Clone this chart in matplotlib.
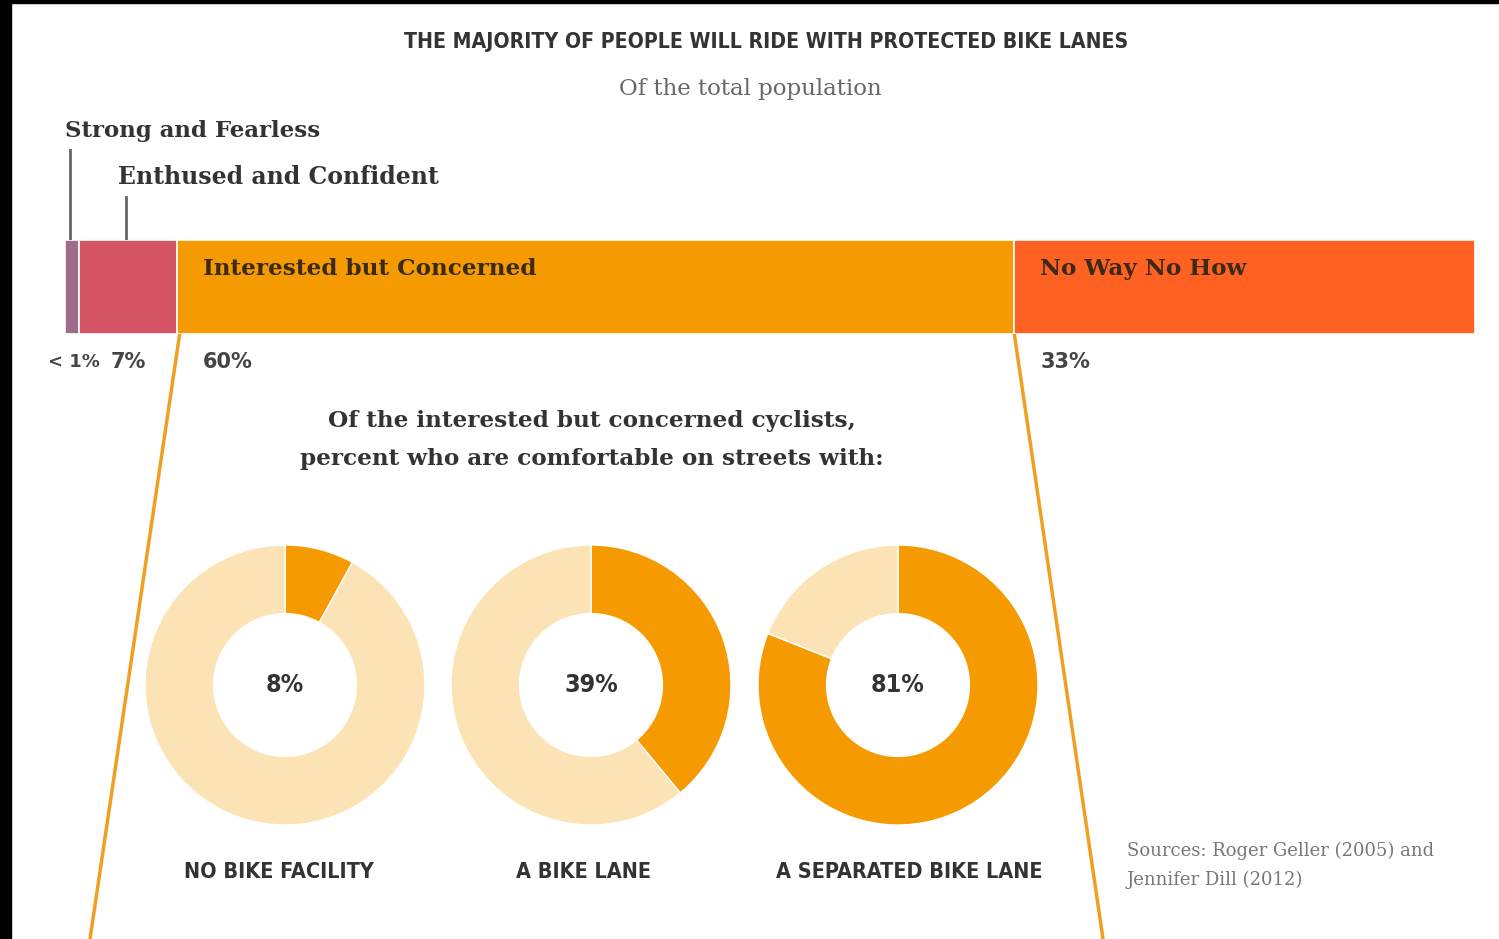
import matplotlib
matplotlib.use("Agg")
import matplotlib.pyplot as plt
from matplotlib import font_manager
from matplotlib.patches import Rectangle

# population split (percent of total)
segments = ["Strong and Fearless", "Enthused and Confident",
            "Interested but Concerned", "No Way No How"]
shares = [1, 7, 60, 33]
share_labels = ["< 1%", "7%", "60%", "33%"]
seg_colors = ["#9C6C88", "#D45463", "#F59A00", "#FF6122"]

# interested-but-concerned riders comfortable per facility
facilities = ["NO BIKE FACILITY", "A BIKE LANE", "A SEPARATED BIKE LANE"]
comfortable = [8, 39, 81]

title = "THE MAJORITY OF PEOPLE WILL RIDE WITH PROTECTED BIKE LANES"
subtitle = "Of the total population"
intro = ["Of the interested but concerned cyclists,",
         "percent who are comfortable on streets with:"]
sources = ["Sources: Roger Geller (2005) and", "Jennifer Dill (2012)"]

ORANGE = "#F59A00"
PALE = "#FCE3B6"
DARK = "#333333"

names = {f.name for f in font_manager.fontManager.ttflist}
if "Liberation Sans Narrow" in names:
    COND = dict(family="Liberation Sans Narrow", weight="bold")
else:
    COND = dict(family="DejaVu Sans", weight="bold", stretch="condensed")
SLAB = dict(family="DejaVu Serif", weight="bold")
PCT = dict(family="DejaVu Sans", weight="bold", color="#444444")

W, H = 1499, 939
fig = plt.figure(figsize=(W / 100, H / 100), dpi=100)
fig.patch.set_facecolor("white")


def fig_box(x0, y0, w, h):
    return [x0 / W, 1 - (y0 + h) / H, w / W, h / H]


ax = fig.add_axes([0, 0, 1, 1])
ax.set_xlim(0, W)
ax.set_ylim(H, 0)
ax.axis("off")

# screenshot border
ax.add_patch(Rectangle((0, 0), 11, H, color="black", zorder=10))
ax.add_patch(Rectangle((0, 0), W, 3, color="black", zorder=10))

ax.text(766, 42, title, ha="center", va="center", fontsize=15.2, color=DARK, **COND)
ax.text(750, 89, subtitle, ha="center", va="center", fontsize=16.5,
        color="#666666", family="DejaVu Serif")

# stacked bar
bar_x0, bar_y0, bar_w, bar_h = 65, 240, 1410, 94
total = sum(shares)
scale = bar_w / total
lefts = [sum(shares[:i]) for i in range(len(shares))]

bx = fig.add_axes(fig_box(bar_x0, bar_y0, bar_w, bar_h))
bx.barh(0.5, shares, left=lefts, height=1, color=seg_colors,
        edgecolor="white", linewidth=1.2)
bx.set_xlim(0, total)
bx.set_ylim(0, 1)
bx.axis("off")

for i in (2, 3):
    bx.text(lefts[i] + 1.85, 0.69, segments[i], ha="left", va="center",
            fontsize=16.7, color="#3A2A18", **SLAB)
    ax.text(bar_x0 + (lefts[i] + 1.85) * scale, 362, share_labels[i],
            ha="left", va="center", fontsize=15, **PCT)

ax.text(100, 362, share_labels[0], ha="right", va="center", fontsize=13, **PCT)
ax.text(146, 362, share_labels[1], ha="right", va="center", fontsize=15, **PCT)

# labels with leader lines for the two small segments
label_y = [131, 177]
label_x = [65, 118]
line_top = [150, 197]
label_size = [16.5, 17]
for i in (0, 1):
    cx = bar_x0 + (lefts[i] + shares[i] / 2) * scale - 2
    ax.plot([cx, cx], [line_top[i], bar_y0], color="#666666", lw=2)
    ax.text(label_x[i], label_y[i], segments[i], ha="left", va="center",
            fontsize=label_size[i], color=DARK, **SLAB)

# zoom lines from the "interested" segment
left_edge = bar_x0 + lefts[2] * scale
right_edge = bar_x0 + (lefts[2] + shares[2]) * scale
ax.plot([left_edge + 3, 90], [bar_y0 + bar_h, H], color="#F0A020", lw=2.5)
ax.plot([right_edge, 1103], [bar_y0 + bar_h, H], color="#F0A020", lw=2.5)

for k, line in enumerate(intro):
    ax.text(592, 421 + 38 * k, line, ha="center", va="center",
            fontsize=16.7, color=DARK, **SLAB)

# donuts
centers = [285, 591, 898]
name_x = [279, 584, 909]
cy, R = 685, 140
for cx, nx, name, val in zip(centers, name_x, facilities, comfortable):
    dx = fig.add_axes(fig_box(cx - R, cy - R, 2 * R, 2 * R))
    dx.pie([val, 100 - val], colors=[ORANGE, PALE], startangle=90,
           counterclock=False, radius=1,
           wedgeprops=dict(width=0.49, edgecolor="white", linewidth=1))
    dx.set_xlim(-1, 1)
    dx.set_ylim(-1, 1)
    dx.set_aspect("equal")
    dx.axis("off")
    dx.text(0, 0, f"{val}%", ha="center", va="center", fontsize=18,
            color=DARK, **COND)
    ax.text(nx, 872, name, ha="center", va="center", fontsize=15.5,
            color=DARK, **COND)

for k, line in enumerate(sources):
    ax.text(1127, 851 + 29 * k, line, ha="left", va="center", fontsize=13,
            color="#777777", family="DejaVu Serif")

fig.savefig("out.png", dpi=100)
